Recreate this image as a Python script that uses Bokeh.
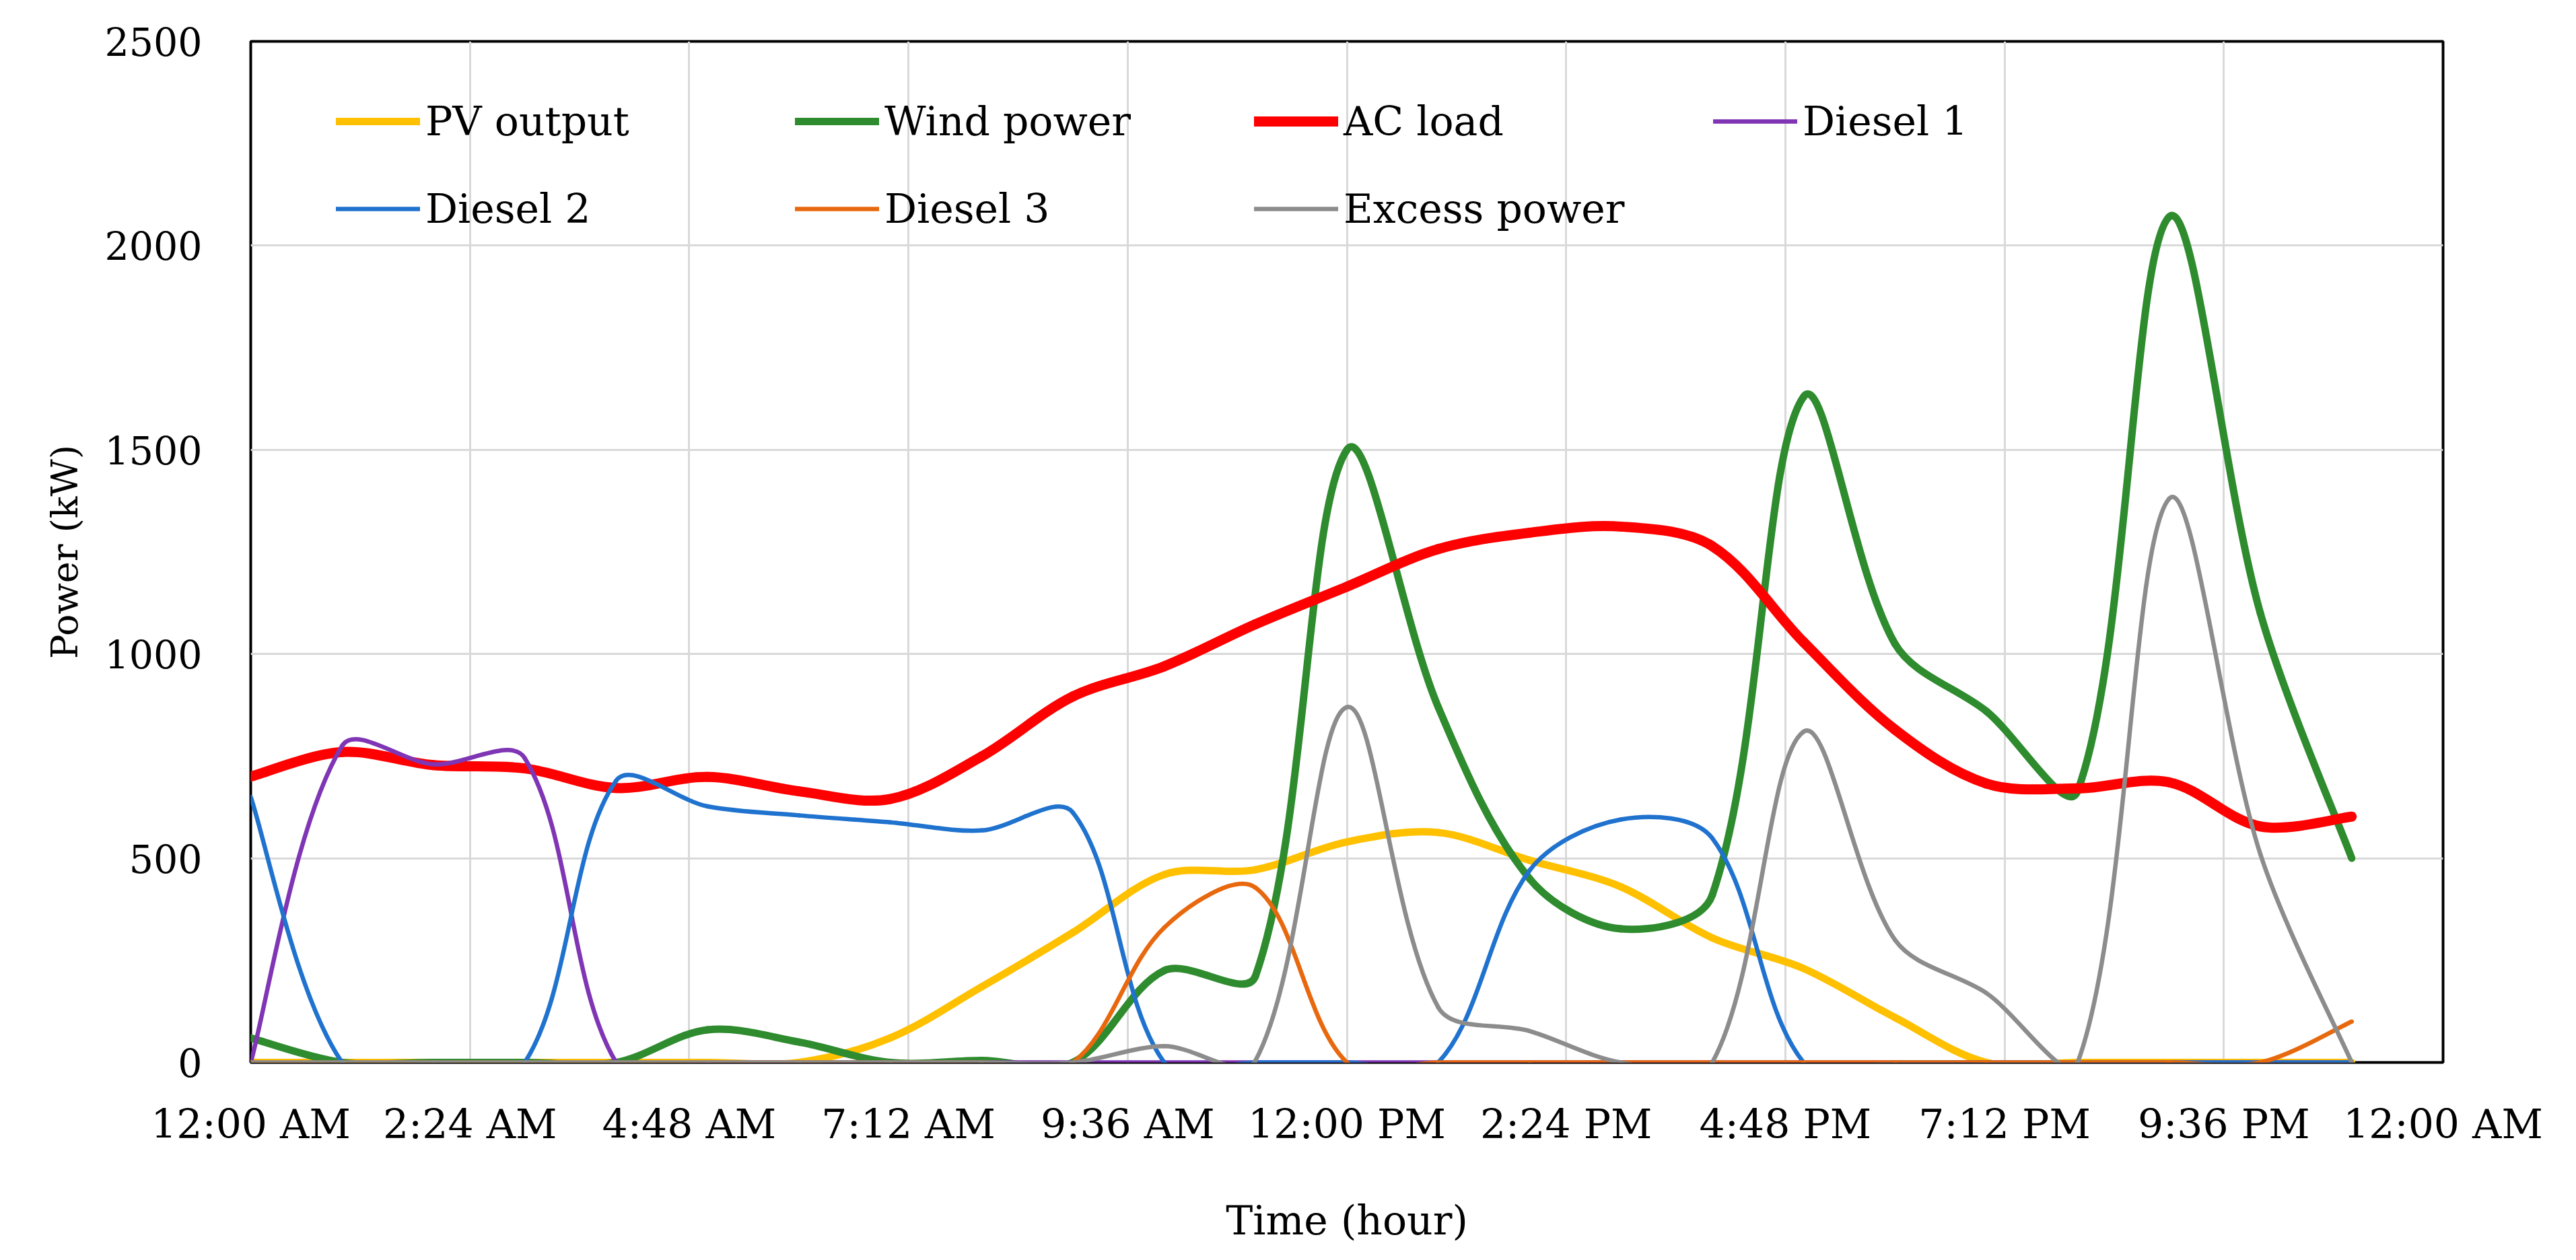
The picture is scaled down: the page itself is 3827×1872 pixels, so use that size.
import numpy as np
from bokeh.plotting import figure
from bokeh.models import FixedTicker, Legend, LegendItem, ColumnDataSource
from bokeh.embed import file_html
from bokeh.resources import INLINE

# ---------------- data (hourly, 0..23 h) ----------------
hours = list(range(24))
pv_output = [0, 0, 0, 0, 0, 0, 0, 60, 185, 318, 460, 472, 540, 563, 495, 430, 305, 230, 110, 0, 0, 0, 0, 0]
wind_power = [60, 0, 0, 0, 0, 80, 50, 0, 5, 0, 225, 212, 1500, 870, 450, 327, 410, 1630, 1025, 860, 665, 2070, 1100, 500]
ac_load = [700, 760, 728, 720, 672, 699, 664, 645, 749, 896, 970, 1073, 1165, 1257, 1297, 1312, 1264, 1029, 815, 683, 671, 686, 578, 602]
diesel_1 = [0, 775, 730, 745, 0, 0, 0, 0, 0, 0, 0, 0, 0, 0, 0, 0, 0, 0, 0, 0, 0, 0, 0, 0]
diesel_2 = [650, 0, 0, 0, 690, 627, 605, 588, 568, 612, 0, 0, 0, 0, 470, 595, 549, 0, 0, 0, 0, 0, 0, 0]
diesel_3 = [0, 0, 0, 0, 0, 0, 0, 0, 0, 0, 330, 428, 0, 0, 0, 0, 0, 0, 0, 0, 0, 0, 0, 100]
excess_power = [0, 0, 0, 0, 0, 0, 0, 0, 0, 0, 40, 5, 870, 135, 77, 0, 0, 810, 300, 170, 0, 1380, 510, 0]

x_ticks = [0, 2.4, 4.8, 7.2, 9.6, 12, 14.4, 16.8, 19.2, 21.6, 24]
x_tick_labels = ["12:00 AM", "2:24 AM", "4:48 AM", "7:12 AM", "9:36 AM", "12:00 PM",
                 "2:24 PM", "4:48 PM", "7:12 PM", "9:36 PM", "12:00 AM"]
y_ticks = [0, 500, 1000, 1500, 2000, 2500]

series = [
    ("PV output", pv_output, "#FFC000", 11),
    ("Wind power", wind_power, "#2E8B2E", 11),
    ("AC load", ac_load, "#FF0000", 15),
    ("Diesel 1", diesel_1, "#7F35B4", 6.5),
    ("Diesel 2", diesel_2, "#1F72CE", 6.5),
    ("Diesel 3", diesel_3, "#E8680E", 6.5),
    ("Excess power", excess_power, "#8C8C8C", 6.5),
]

# plot geometry (pixels)
W, H = 3811, 1856
BL, BR, BT, BB = 372, 182, 61, 278
X0, X1, Y0, Y1 = 0, 24, 0, 2500
PX_X = (W - BL - BR) / (X1 - X0)
PX_Y = (H - BT - BB) / (Y1 - Y0)


def smooth_segments(xs, ys):
    """Bezier control points of a spreadsheet-style smoothed line through the data
    (tangents weighted by on-screen segment lengths)."""
    x = np.asarray(xs, dtype=float)
    y = np.asarray(ys, dtype=float)
    n = len(x)
    d = np.hypot(np.diff(x) * PX_X, np.diff(y) * PX_Y)
    dprev = np.concatenate([[d[0]], d[:-1]])
    dnext = np.concatenate([d[1:], [d[-1]]])
    xp = np.concatenate([[x[0]], x, [x[-1]]])
    yp = np.concatenate([[y[0]], y, [y[-1]]])
    w1 = d / (dprev + d) / 3.0
    w2 = d / (d + dnext) / 3.0
    return dict(
        x0=x[:-1], y0=y[:-1], x1=x[1:], y1=y[1:],
        cx0=x[:-1] + (xp[2:n + 1] - xp[0:n - 1]) * w1,
        cy0=y[:-1] + (yp[2:n + 1] - yp[0:n - 1]) * w1,
        cx1=x[1:] - (xp[3:n + 2] - xp[1:n]) * w2,
        cy1=y[1:] - (yp[3:n + 2] - yp[1:n]) * w2,
    )


FONT = "DejaVu Serif"

p = figure(width=W, height=H, x_range=(X0, X1), y_range=(Y0, Y1),
           output_backend="svg", toolbar_location=None,
           min_border_left=BL, min_border_right=BR, min_border_top=BT, min_border_bottom=BB)
p.background_fill_color = "white"
p.border_fill_color = "white"
p.outline_line_color = "black"
p.outline_line_width = 4

# grid
p.xgrid.ticker = FixedTicker(ticks=x_ticks)
p.ygrid.ticker = FixedTicker(ticks=y_ticks)
for g in (p.xgrid, p.ygrid):
    g.grid_line_color = "#d9d9d9"
    g.grid_line_width = 3

# axes
p.xaxis.ticker = FixedTicker(ticks=x_ticks)
p.xaxis.major_label_overrides = {t: l for t, l in zip(x_ticks, x_tick_labels)}
p.yaxis.ticker = FixedTicker(ticks=y_ticks)
for ax in (p.xaxis, p.yaxis):
    ax.axis_line_color = None
    ax.major_tick_line_color = None
    ax.minor_tick_line_color = None
    ax.major_label_text_font = FONT
    ax.major_label_text_color = "black"
    ax.axis_label_text_font = FONT
    ax.axis_label_text_font_style = "normal"
    ax.axis_label_text_color = "black"
p.xaxis.major_label_text_font_size = "60px"
p.yaxis.major_label_text_font_size = "57px"
p.xaxis.major_label_standoff = 50
p.yaxis.major_label_standoff = 66
p.xaxis.axis_label = "Time (hour)"
p.xaxis.axis_label_text_font_size = "60px"
p.xaxis.axis_label_standoff = 70
p.yaxis.axis_label = "Power (kW)"
p.yaxis.axis_label_text_font_size = "54px"
p.yaxis.axis_label_standoff = 24

items = []
for name, vals, color, lw in series:
    src = ColumnDataSource(smooth_segments(hours, vals))
    r = p.bezier(x0="x0", y0="y0", x1="x1", y1="y1", cx0="cx0", cy0="cy0",
                 cx1="cx1", cy1="cy1", source=src, line_color=color,
                 line_width=lw, line_cap="round", line_join="round")
    items.append(LegendItem(label=name, renderers=[r]))

legend = Legend(items=items, location=(127, 1233), orientation="horizontal", ncols=4,
                glyph_width=125, glyph_height=66, label_height=66, label_width=489,
                label_standoff=8, spacing=60, padding=0, margin=0,
                border_line_color=None, background_fill_alpha=0,
                label_text_font=FONT, label_text_font_size="60px",
                label_text_color="black", label_text_baseline="middle")
p.add_layout(legend)

open("out.html", "w").write(file_html(p, INLINE))
